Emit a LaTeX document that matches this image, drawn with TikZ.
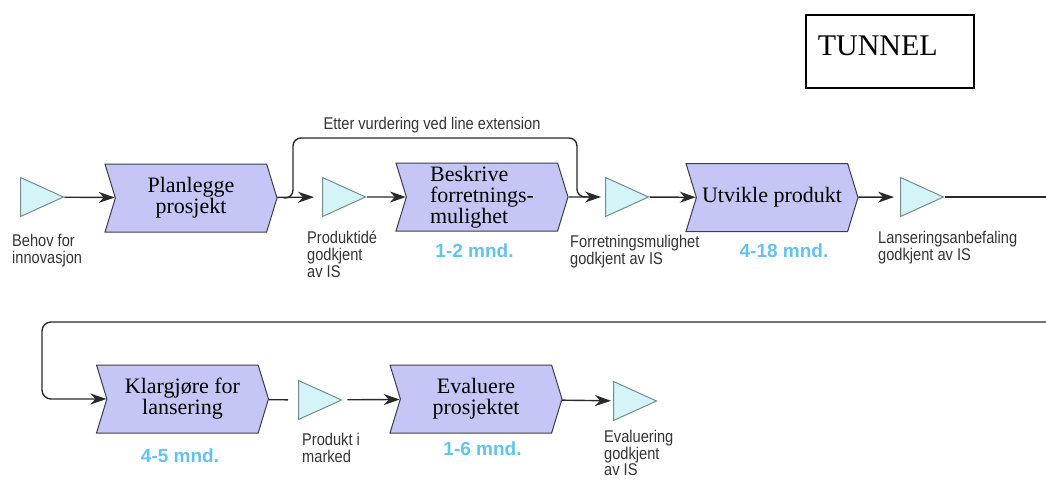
\documentclass[tikz,border=0pt]{standalone}
\usepackage{fontspec}
\setmainfont{Liberation Serif}
\newfontfamily\lblfont{Liberation Sans}[FakeStretch=0.86]
\newfontfamily\durfont{Liberation Sans}
\definecolor{procfill}{HTML}{C6C6F6}
\definecolor{procline}{HTML}{3C3C48}
\definecolor{evfill}{HTML}{D4F4F8}
\definecolor{evline}{HTML}{6F8F8F}
\definecolor{lblgray}{HTML}{333333}
\definecolor{durblue}{HTML}{63C3EE}
\definecolor{linegray}{HTML}{2A2A2A}
\usetikzlibrary{arrows.meta, shapes.symbols, shapes.geometric, positioning, calc}

\begin{document}
\begin{tikzpicture}[
    x=1pt, y=-1pt,
    proc/.style={signal, signal to=east, signal from=west,
                 signal pointer angle=146, draw=procline, fill=procfill,
                 line width=1pt, minimum width=172pt, minimum height=68pt,
                 inner sep=2pt, align=center,
                 font=\fontsize{22}{21}\selectfont},
    event/.style={isosceles triangle, isosceles triangle stretches,
                  draw=evline, fill=evfill, line width=1pt, anchor=lower side,
                  minimum width=39pt, minimum height=43pt, inner sep=0pt},
    lbl/.style={anchor=north west, inner sep=0pt, align=left,
                text=lblgray, font=\lblfont\fontsize{17}{17}\selectfont},
    dur/.style={anchor=base, inner sep=0pt, text=durblue,
                font=\durfont\bfseries\fontsize{19}{19}\selectfont},
    link/.style={line width=1.4pt, draw=linegray},
    arr/.style={link, -{Stealth[length=16pt, width=11pt, inset=5pt]}}
  ]
  \useasboundingbox (0,0) rectangle (1046,479);

  % tunnel box
  \node[draw, line width=1.5pt, anchor=north west, minimum height=73pt,
        text width=144pt, inner xsep=12pt, text depth=11pt, align=left,
        font=\fontsize{30}{30}\selectfont] (tunnel) at (805,14) {TUNNEL};

  % first row (events placed by their base)
  \node[event] (behov) at (20,197) {};
  \node[proc]  (plan)  at (191,198) {Planlegge\\ prosjekt};
  \node[event] (ide)   at (322,197) {};
  \node[proc, align=left] (besk) at (482,197)
    {Beskrive\\ forretnings-\\ mulighet};
  \node[event] (mulig) at (605,197) {};
  \node[proc]  (utv)   at (772,197.5) {Utvikle produkt};
  \node[event] (lans)  at (900,197) {};

  % second row
  \node[proc]  (klar)  at (182.5,399) {Klargjøre for\\ lansering};
  \node[event] (marked) at (298,400) {};
  \node[proc]  (eval)  at (476,399) {Evaluere\\ prosjektet};
  \node[event] (evgod) at (613,401) {};

  % labels
  \node[lbl] (behovtxt)  at (12,234)  {Behov for\\ innovasjon};
  \node[lbl] (idetxt)    at (307,231) {Produktidé\\ godkjent\\ av IS};
  \node[lbl] (muligtxt)  at (570,235) {Forretningsmulighet\\ godkjent av IS};
  \node[lbl] (lanstxt)   at (878,231) {Lanseringsanbefaling\\ godkjent av IS};
  \node[lbl] (markedtxt) at (302,433) {Produkt i\\ marked};
  \node[lbl, font=\lblfont\fontsize{17}{16.5}\selectfont] (evgodtxt)
    at (604,430) {Evaluering\\ godkjent\\ av IS};
  \node[lbl, anchor=base] (etter) at (432,129.5)
    {Etter vurdering ved line extension};

  % durations
  \node[dur] (d1) at (474.5,257) {1-2 mnd.};
  \node[dur] (d2) at (784,257)   {4-18 mnd.};
  \node[dur] (d3) at (180,462)   {4-5 mnd.};
  \node[dur] (d4) at (482.5,455) {1-6 mnd.};

  \coordinate (byL) at (293,138);
  \coordinate (byR) at (577,138);
  \coordinate (outR) at (1046,197);
  \coordinate (wrapIn) at (1046,322);
  \coordinate (wrapL) at (42,322);

  % connectors
  \draw[arr] (behov) -- (plan);
  \draw[arr, shorten >=8pt] (plan) -- (ide);
  \draw[arr] (ide) -- (besk);
  \draw[arr, shorten >=4pt] (besk) -- (mulig);
  \draw[arr] (mulig) -- (utv);
  \draw[arr, shorten >=6pt] (utv) -- (lans);
  \draw[link] (lans) -- (outR);
  % bypass over Beskrive
  \draw[link, rounded corners=8pt]
    ([xshift=6pt]plan.east) -| (byL) -- (byR) |- ([xshift=-12pt]mulig.west);
  % wrap to second row
  \draw[arr, rounded corners=9pt] (wrapIn) -- (wrapL) |- (klar);
  \draw[link, shorten >=10pt] (klar) -- (marked);
  \draw[arr, shorten <=5pt] (marked) -- (eval);
  \draw[arr, shorten >=2pt] (eval) -- (evgod);
\end{tikzpicture}
\end{document}
